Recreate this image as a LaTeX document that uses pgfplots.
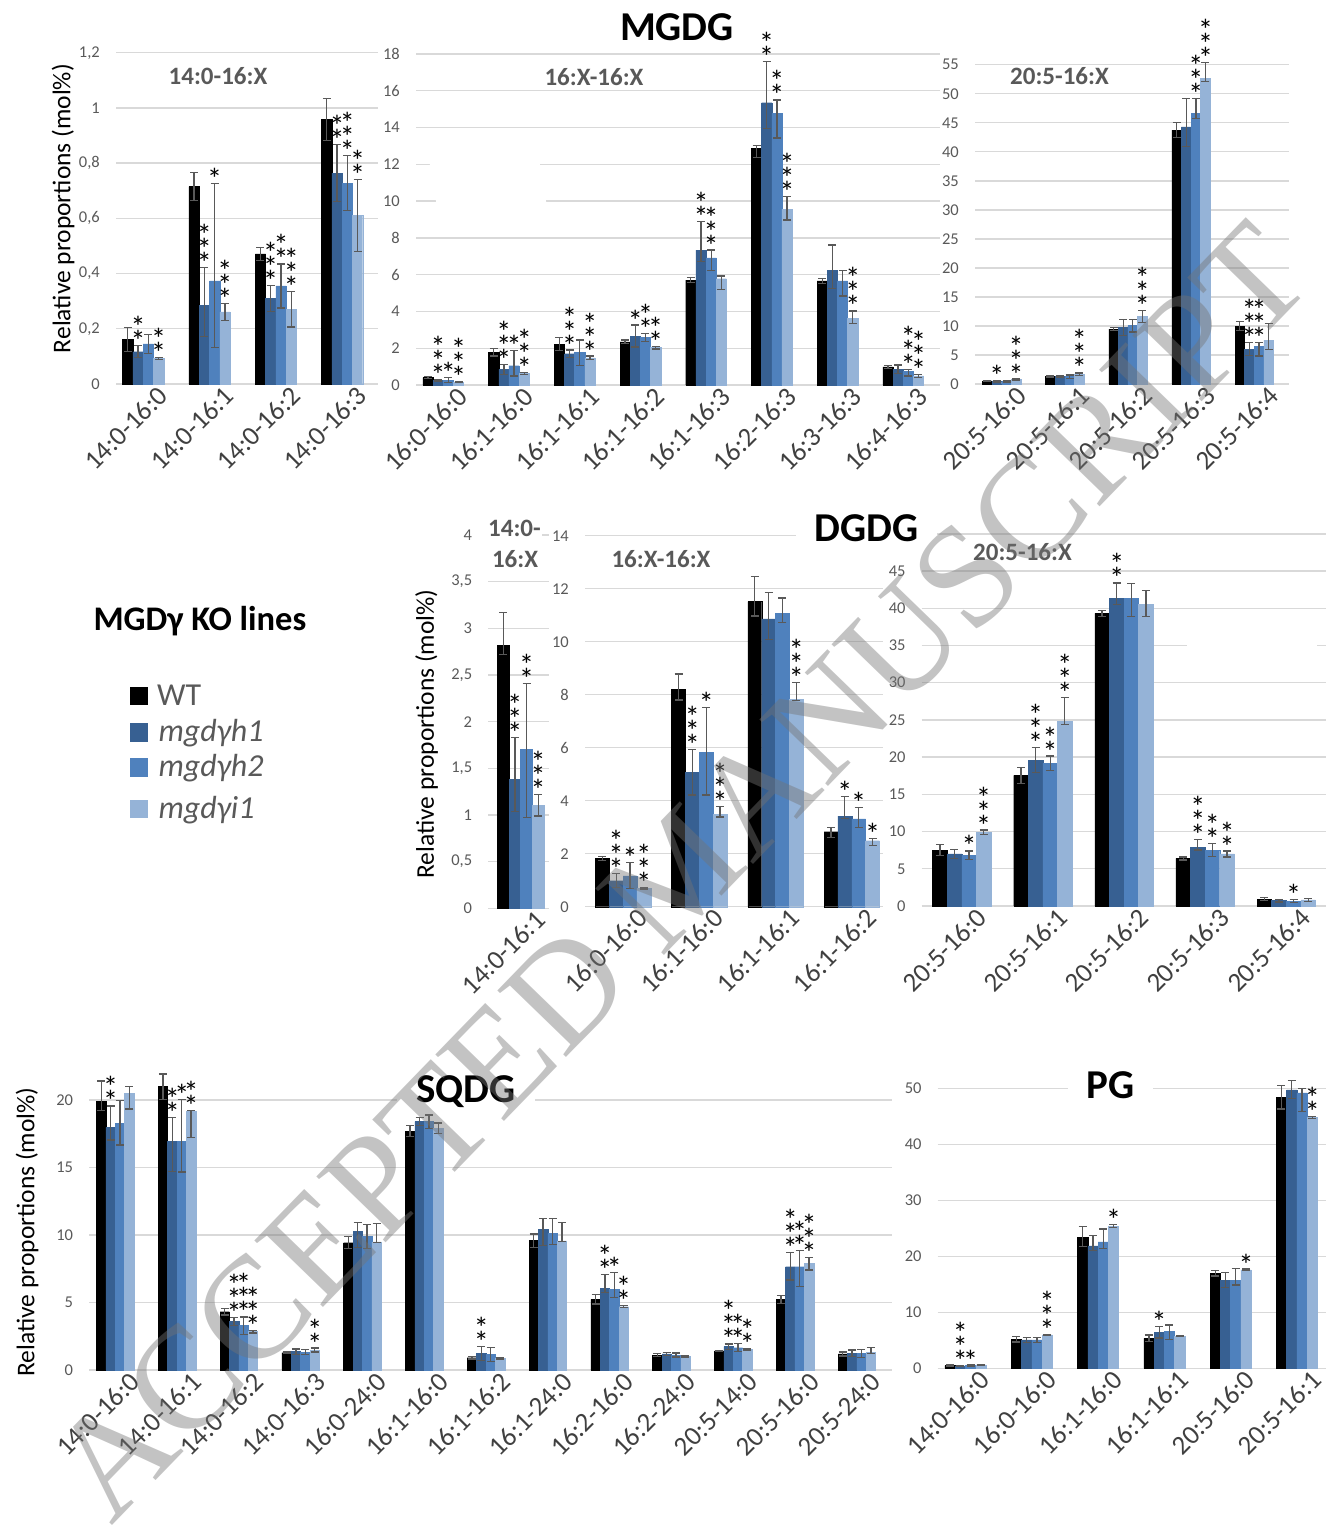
\documentclass[border=0pt]{standalone}
\usepackage{fontspec}
\setmainfont{Carlito}
\newfontfamily\wmfont{Liberation Serif}
\usepackage{pgfplots}
\pgfplotsset{compat=1.18}
\usepackage{pgfplotstable}
\definecolor{cwt}{RGB}{0,0,0}
\definecolor{ch1}{RGB}{55,96,146}
\definecolor{ch2}{RGB}{79,129,189}
\definecolor{ci1}{RGB}{149,179,215}
\definecolor{gridc}{RGB}{217,217,217}
\definecolor{tickc}{RGB}{89,89,89}
\definecolor{errc}{RGB}{89,89,89}
\definecolor{xtc}{RGB}{64,64,64}
\definecolor{wmc}{RGB}{116,116,116}

% columns: WT (a), mgdyh1 (b), mgdyh2 (c), mgdyi1 (d); p/m = error plus/minus
\pgfplotstableread{
x a ap am b bp bm c cp cm d dp dm
0 0.162 0.043 0.043 0.117 0.022 0.022 0.145 0.034 0.034 0.093 0.004 0.004
1 0.715 0.05 0.05 0.284 0.137 0.113 0.374 0.353 0.241 0.261 0.031 0.031
2 0.471 0.024 0.024 0.31 0.048 0.048 0.355 0.08 0.08 0.27 0.064 0.064
3 0.959 0.076 0.076 0.764 0.103 0.103 0.728 0.1 0.1 0.61 0.13 0.13
}\tA
\pgfplotstableread{
x a ap am b bp bm c cp cm d dp dm
0 0.40 0.05 0.05 0.24 0.04 0.04 0.27 0.15 0.15 0.15 0.03 0.03
1 1.78 0.2 0.2 0.85 0.27 0.27 1.05 0.82 0.56 0.62 0.06 0.06
2 2.23 0.36 0.36 1.70 0.2 0.2 1.76 0.69 0.69 1.47 0.1 0.1
3 2.34 0.1 0.1 2.66 0.6 0.6 2.59 0.22 0.22 2.03 0.07 0.07
4 5.71 0.15 0.15 7.34 1.54 0.64 6.91 0.43 0.69 5.78 0.15 0.58
5 12.87 0.14 0.49 15.35 2.23 1.4 14.77 0.73 1.33 9.57 0.7 0.6
6 5.66 0.13 0.13 6.22 1.4 0.96 5.66 0.56 0.82 3.63 0.4 0.3
7 0.98 0.07 0.07 0.87 0.22 0.24 0.76 0.09 0.27 0.49 0.07 0.07
}\tB
\pgfplotstableread{
x a ap am b bp bm c cp cm d dp dm
0 0.52 0.1 0.1 0.46 0.1 0.1 0.46 0.1 0.1 0.75 0.1 0.1
1 1.26 0.1 0.1 1.32 0.1 0.1 1.26 0.3 0.3 1.66 0.25 0.25
2 9.47 0.3 0.3 9.76 1.38 1.38 10.05 1.1 1.1 11.6 1.03 1.03
3 43.74 1.26 1.26 44.3 4.9 3.4 46.6 2.6 0.9 52.6 2.8 0.5
4 9.99 0.75 0.75 6.03 1.1 1.1 6.43 0.7 1.6 7.58 2.87 1.6
}\tC
\pgfplotstableread{
x a ap am b bp bm c cp cm d dp dm
0 2.82 0.35 0.1 1.38 0.45 0.34 1.70 0.71 0.73 1.10 0.12 0.11
}\tD
\pgfplotstableread{
x a ap am b bp bm c cp cm d dp dm
0 1.82 0.08 0.08 0.98 0.28 0.25 1.16 0.5 0.47 0.69 0.02 0.02
1 8.2 0.58 0.4 5.06 0.88 0.84 5.82 1.7 1.6 3.48 0.3 0.1
2 11.51 0.94 0.54 10.86 1.0 0.77 11.07 0.58 0.34 7.82 0.64 0.05
3 2.83 0.16 0.21 3.42 0.75 0.1 3.31 0.44 0.31 2.49 0.08 0.17
}\tE
\pgfplotstableread{
x a ap am b bp bm c cp cm d dp dm
0 7.52 0.7 0.7 6.99 0.6 0.6 6.81 0.6 0.6 9.9 0.3 0.3
1 17.55 1.07 1.07 19.61 1.66 1.66 19.17 0.98 0.98 24.76 3.27 0.36
2 39.3 0.4 0.4 41.3 2.1 0.76 41.3 2.0 2.37 40.5 1.93 1.6
3 6.4 0.2 0.2 7.88 1.07 0.36 7.52 0.9 0.9 6.99 0.4 0.4
4 0.9 0.2 0.2 0.72 0.2 0.2 0.67 0.2 0.2 0.81 0.2 0.2
}\tF
\pgfplotstableread{
x a ap am b bp bm c cp cm d dp dm
0 19.88 1.53 0.67 17.98 1.58 0.94 18.27 1.68 1.6 20.49 0.49 1.16
1 20.99 0.94 0.94 16.96 1.73 2.26 16.96 3.09 2.3 19.14 0.1 1.9
2 4.32 0.25 0.25 3.58 0.3 0.3 3.33 0.6 0.7 2.84 0.1 0.1
3 1.28 0.05 0.05 1.36 0.2 0.2 1.33 0.2 0.2 1.48 0.15 0.15
4 9.43 0.45 0.45 10.25 0.67 1.16 9.88 0.9 0.9 9.5 1.36 0.05
5 17.7 0.4 0.4 18.4 0.3 0.3 18.4 0.5 0.5 17.9 0.4 0.4
6 0.91 0.1 0.1 1.23 0.5 0.5 1.16 0.52 0.52 0.86 0.05 0.05
7 9.63 0.44 0.54 10.44 0.8 1.2 10.12 1.1 0.8 9.56 1.38 0.05
8 5.23 0.35 0.35 6.05 1.0 0.3 5.98 1.23 0.62 4.69 0.08 0.08
9 1.11 0.1 0.1 1.19 0.1 0.1 1.11 0.15 0.15 0.99 0.05 0.05
10 1.41 0.05 0.05 1.73 0.2 0.2 1.65 0.3 0.3 1.53 0.05 0.05
11 5.23 0.3 0.3 7.65 1.04 0.99 7.65 1.19 1.48 7.9 0.44 0.49
12 1.19 0.15 0.15 1.23 0.25 0.25 1.23 0.3 0.3 1.31 0.37 0.1
}\tS
\pgfplotstableread{
x a ap am b bp bm c cp cm d dp dm
0 0.48 0.1 0.1 0.42 0.1 0.1 0.48 0.1 0.1 0.6 0.1 0.1
1 5.18 0.5 0.5 5.06 0.4 0.4 5.06 0.5 0.5 5.95 0.1 0.1
2 23.4 1.9 1.7 21.85 1.85 0.8 22.6 2.26 1.2 25.4 0.3 0.3
3 5.36 0.6 0.6 6.43 1.0 1.0 6.55 1.2 1.4 5.77 0.15 0.15
4 16.96 0.5 0.5 15.77 1.3 1.3 15.77 2.0 0.9 17.56 0.15 0.15
5 48.33 2.14 2.0 49.7 1.67 1.5 49.2 0.8 3.3 44.76 0.15 0.15
}\tP

\pgfplotsset{
  panel/.style={
    scale only axis,
    anchor=south west,
    ybar=0pt,
    ymin=0,
    clip=false,
    axis line style={draw=none},
    major tick length=0pt,
    ymajorgrids,
    grid style={draw=gridc, line width=1.4pt},
    /pgf/number format/assume math mode=true,
    /pgf/number format/use comma,
    yticklabel style={font=\fontsize{16.5}{19}\selectfont, color=tickc, inner sep=0pt, xshift=-16pt},
    xticklabel style={font=\fontsize{27}{30}\selectfont, color=xtc, rotate=45, anchor=east, inner sep=0pt, xshift=9pt, yshift=-19pt},
    error bars/y dir=both,
    error bars/y explicit,
    error bars/error bar style={draw=errc, line width=1.3pt},
    error bars/error mark options={rotate=90, mark size=4pt, line width=1.3pt, draw=errc},
  },
}

\newcommand\fourbars[1]{%
  \addplot[fill=cwt, draw=cwt] table[x=x, y=a, y error plus=ap, y error minus=am]{#1};
  \addplot[fill=ch1, draw=ch1] table[x=x, y=b, y error plus=bp, y error minus=bm]{#1};
  \addplot[fill=ch2, draw=ch2] table[x=x, y=c, y error plus=cp, y error minus=cm]{#1};
  \addplot[fill=ci1, draw=ci1] table[x=x, y=d, y error plus=dp, y error minus=dm]{#1};
}
\newcommand\stk[1]{\ifcase#1\or\hbox{*}\or\hbox{*}\hbox{*}\or\hbox{*}\hbox{*}\hbox{*}\fi}
\newcommand\sta[3]{\node[anchor=base, inner sep=0pt, yshift=-6pt, font=\fontsize{30}{30}\selectfont] at (axis cs:#1,#2) {\vbox{\lineskiplimit=-100pt\baselineskip=14pt\stk{#3}}};}

\begin{document}
\begin{tikzpicture}[x=1pt,y=1pt]
\useasboundingbox (0,0) rectangle (1326,-1532);

% ---------------- MGDG ----------------
\begin{axis}[panel, at={(116pt,-384pt)}, width=262pt, height=331.3pt,
  xmin=-0.41, xmax=3.54, ymax=1.2, bar width=0.155,
  ytick={0,0.2,0.4,0.6,0.8,1,1.2},
  xtick={0,1,2,3}, xticklabels={14:0-16:0,14:0-16:1,14:0-16:2,14:0-16:3}]
\fourbars{\tA}
\sta{-0.0775}{0.139}{2}\sta{0.2325}{0.097}{2}
\sta{0.9225}{0.421}{3}\sta{1.0775}{0.727}{1}\sta{1.2325}{0.292}{3}
\sta{1.9225}{0.358}{3}\sta{2.0775}{0.435}{2}\sta{2.2325}{0.334}{3}
\sta{2.9225}{0.867}{2}\sta{3.0775}{0.828}{3}\sta{3.2325}{0.74}{2}
\end{axis}

\begin{axis}[panel, at={(416pt,-385pt)}, width=524pt, height=331pt,
  xmin=-0.415, xmax=7.56, ymax=18, bar width=0.155,
  ytick={0,2,...,18},
  xtick={0,...,7}, xticklabels={16:0-16:0,16:1-16:0,16:1-16:1,16:1-16:2,16:1-16:3,16:2-16:3,16:3-16:3,16:4-16:3}]
\fourbars{\tB}
\sta{-0.0775}{0.28}{3}\sta{0.0775}{0.42}{1}\sta{0.2325}{0.18}{3}
\sta{0.9225}{1.12}{3}\sta{1.0775}{1.87}{1}\sta{1.2325}{0.68}{3}
\sta{1.9225}{1.9}{3}\sta{2.2325}{1.57}{3}
\sta{2.9225}{3.26}{1}\sta{3.0775}{2.81}{2}\sta{3.2325}{2.1}{2}
\sta{3.9225}{8.88}{2}\sta{4.0775}{7.34}{3}
\sta{4.9225}{17.58}{2}\sta{5.0775}{15.5}{2}\sta{5.2325}{10.27}{3}
\sta{6.2325}{4.03}{3}
\sta{7.0775}{0.85}{3}\sta{7.2325}{0.56}{3}
\end{axis}
\fill[white] (429,-159) -- (539,-159) -- (547,-207) -- (437,-207) -- cycle;

\begin{axis}[panel, at={(975pt,-384pt)}, width=314.3pt, height=319.3pt,
  xmin=-0.423, xmax=4.556, ymax=55, bar width=0.152,
  ytick={0,5,...,55},
  xtick={0,...,4}, xticklabels={20:5-16:0,20:5-16:1,20:5-16:2,20:5-16:3,20:5-16:4}]
\fourbars{\tC}
\sta{-0.076}{0.56}{1}\sta{0.228}{0.85}{3}
\sta{1.228}{1.91}{3}
\sta{2.228}{12.63}{3}
\sta{3.076}{49.2}{3}\sta{3.228}{55.4}{3}
\sta{3.924}{7.13}{3}\sta{4.076}{7.13}{3}
\end{axis}

% ---------------- DGDG ----------------
\begin{axis}[panel, at={(488.3pt,-908.3pt)}, width=61pt, height=373.3pt,
  xmin=-0.531, xmax=0.469, ymax=4, bar width=0.191,
  ytick={0,0.5,1,1.5,2,2.5,3,3.5,4},
  xtick={0}, xticklabels={14:0-16:1}]
\fourbars{\tD}
\sta{-0.0955}{1.83}{3}\sta{0.0955}{2.41}{2}\sta{0.2865}{1.22}{3}
\end{axis}

\begin{axis}[panel, at={(585pt,-906.7pt)}, width=298pt, height=371pt,
  xmin=-0.5, xmax=3.41, ymax=14, bar width=0.1815,
  ytick={0,2,...,14},
  xtick={0,...,3}, xticklabels={16:0-16:0,16:1-16:0,16:1-16:1,16:1-16:2}]
\fourbars{\tE}
\sta{-0.09075}{1.26}{3}\sta{0.09075}{1.66}{1}\sta{0.27225}{0.71}{3}
\sta{0.90925}{5.94}{3}\sta{1.09075}{7.52}{1}\sta{1.27225}{3.78}{3}
\sta{2.27225}{8.46}{3}
\sta{2.90925}{4.17}{1}\sta{3.09075}{3.75}{1}\sta{3.27225}{2.57}{1}
\end{axis}

\begin{axis}[panel, at={(921.7pt,-906pt)}, width=404.3pt, height=372.2pt,
  xmin=-0.494, xmax=4.49, ymax=50, bar width=0.18,
  ytick={0,5,...,50}, yticklabels={0,5,10,15,20,25,30,35,40,45,{}},
  xtick={0,...,4}, xticklabels={20:5-16:0,20:5-16:1,20:5-16:2,20:5-16:3,20:5-16:4}]
\fourbars{\tF}
\sta{0.09}{7.41}{1}\sta{0.27}{10.2}{3}
\sta{0.91}{21.27}{3}\sta{1.09}{20.15}{2}\sta{1.27}{28.03}{3}
\sta{1.91}{43.4}{2}
\sta{2.91}{8.95}{3}\sta{3.09}{8.42}{2}\sta{3.27}{7.39}{2}
\sta{4.09}{0.87}{1}
\end{axis}
\fill[white] (1187,-641) rectangle (1317,-650);

% ---------------- SQDG ----------------
\begin{axis}[panel, at={(89.3pt,-1370pt)}, width=802.4pt, height=303.75pt,
  xmin=-0.42, xmax=12.565, ymax=22.5, bar width=0.152,
  ytick={0,5,10,15,20},
  xtick={0,...,12}, xticklabels={14:0-16:0,14:0-16:1,14:0-16:2,14:0-16:3,16:0-24:0,16:1-16:0,16:1-16:2,16:1-24:0,16:2-16:0,16:2-24:0,20:5-14:0,20:5-16:0,20:5-24:0}]
\fourbars{\tS}
\sta{-0.076}{19.56}{2}
\sta{0.924}{18.69}{2}\sta{1.076}{20.05}{1}\sta{1.228}{19.24}{2}
\sta{1.924}{3.88}{3}\sta{2.076}{3.93}{3}\sta{2.228}{2.94}{3}
\sta{3.228}{1.63}{2}
\sta{5.924}{1.73}{2}
\sta{7.924}{7.05}{2}\sta{8.076}{7.21}{1}\sta{8.228}{4.77}{2}
\sta{9.924}{1.93}{3}\sta{10.076}{1.95}{2}\sta{10.228}{1.58}{2}
\sta{10.924}{8.69}{3}\sta{11.076}{8.84}{2}\sta{11.228}{8.34}{3}
\end{axis}

% ---------------- PG ----------------
\begin{axis}[panel, at={(937.7pt,-1368.3pt)}, width=388.3pt, height=291.2pt,
  xmin=-0.42, xmax=5.44, ymax=52, bar width=0.155,
  ytick={0,10,...,50},
  xtick={0,...,5}, xticklabels={14:0-16:0,16:0-16:0,16:1-16:0,16:1-16:1,20:5-16:0,20:5-16:1}]
\fourbars{\tP}
\sta{-0.0775}{0.52}{3}\sta{0.0775}{0.58}{1}
\sta{1.2325}{6.05}{3}
\sta{2.2325}{25.7}{1}
\sta{2.9225}{7.43}{1}
\sta{4.2325}{17.71}{1}
\sta{5.2325}{44.91}{2}
\end{axis}

% ---------------- titles ----------------
\tikzset{mtitle/.style={anchor=base, font=\fontsize{41}{48}\selectfont\bfseries, fill=white, inner xsep=19pt, inner ysep=2pt}}
\tikzset{stitle/.style={anchor=base, font=\fontsize{25}{30}\selectfont\bfseries, text=tickc, inner sep=1pt}}
\tikzset{ylab/.style={rotate=90, font=\fontsize{25.5}{29}\selectfont}}
\node[mtitle] at (677,-40) {MGDG};
\node[mtitle] at (866.5,-541.7) {DGDG};
\node[mtitle] at (466,-1102) {SQDG};
\node[mtitle] at (1110.5,-1098.3) {PG};

\node[stitle] at (218,-84) {14:0-16:X};
\node[stitle] at (594,-85) {16:X-16:X};
\node[stitle] at (1059.5,-84) {20:5-16:X};
\node[stitle, fill=white] at (514.5,-536) {14:0-};
\node[stitle] at (515,-567.3) {16:X};
\node[stitle] at (661,-567.7) {16:X-16:X};
\node[stitle] at (1022.5,-560.7) {20:5-16:X};

\node[ylab] at (63,-208.5) {Relative proportions (mol\%)};
\node[ylab] at (426.7,-734) {Relative proportions (mol\%)};
\node[ylab] at (27,-1232) {Relative proportions (mol\%)};

% ---------------- legend ----------------
\node[anchor=base west, inner sep=0pt, font=\fontsize{34.5}{40}\selectfont\bfseries] at (93.3,-630) {MGDγ KO lines};
\fill[cwt] (130,-686.7) rectangle (148,-705);
\fill[ch1] (130,-723.3) rectangle (148,-741.7);
\fill[ch2] (130,-758.3) rectangle (148,-776.7);
\fill[ci1] (130,-800) rectangle (148,-818.3);
\tikzset{legt/.style={anchor=base west, inner sep=0pt, text=tickc, font=\fontsize{32}{36}\selectfont}}
\node[legt] at (157,-705) {WT};
\node[legt] at (158.3,-741.7) {\itshape mgdγh1};
\node[legt] at (158.3,-776.7) {\itshape mgdγh2};
\node[legt] at (158.3,-818.3) {\itshape mgdγi1};

% ---------------- watermark ----------------
\node[rotate=45.9, inner sep=0pt, text=wmc, text opacity=0.43, font=\wmfont\fontsize{146}{146}\selectfont] at (680,-871.5) {ACCEPTED MANUSCRIPT};
\end{tikzpicture}
\end{document}
